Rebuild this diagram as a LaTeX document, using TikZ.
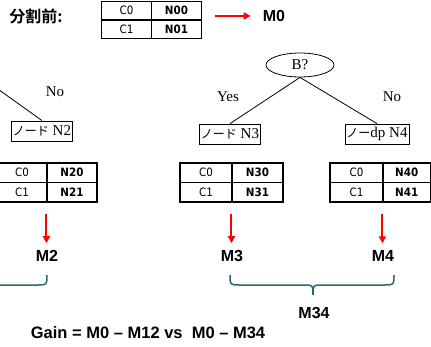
\documentclass[tikz,border=0pt]{standalone}
\usepackage{fontspec}
\setmainfont{Liberation Serif}
\newfontfamily\arialf{Liberation Sans}
\newfontfamily\tabf{DejaVu Sans Condensed}[BoldFont={DejaVu Sans Condensed Bold}]
\newfontfamily\jpf{Noto Sans CJK JP}[BoldFont={Noto Sans CJK JP Bold}]
\usetikzlibrary{shapes.geometric,arrows.meta}
\definecolor{bracecol}{RGB}{46,102,112}

\tikzset{
  cell/.style={draw, line width=1.1pt, inner sep=0pt, font=\tabf\fontsize{11.5}{13}\selectfont},
  cellb/.style={cell, font=\tabf\bfseries\fontsize{11.5}{13}\selectfont},
  treebox/.style={draw, line width=0.8pt, inner sep=1.5pt, minimum height=20pt, font=\fontsize{15}{18}\selectfont},
  decision/.style={draw, ellipse, line width=0.8pt, minimum width=68pt, minimum height=24pt, inner sep=0pt, font=\fontsize{15}{18}\selectfont},
  edge/.style={line width=0.8pt},
  lbl/.style={font=\fontsize{15}{18}\selectfont, inner sep=0pt},
  mlbl/.style={font=\arialf\bfseries\fontsize{16}{19}\selectfont, inner sep=0pt},
  redarrow/.style={draw=red, line width=2pt, -{Triangle[length=7pt,width=7pt]}},
  bracepath/.style={draw=bracecol, line width=1.5pt},
}

% class-count table: #1 name, #2 left x, #3 split x, #4 right x, #5 top y, #6 row height, #7 node digit
\newcommand{\ctable}[7]{%
  \node[cell, minimum width={#3pt-(#2pt)}, minimum height=#6pt]
    (#1c0) at ({(#2+#3)/2}, {#5+#6/2}) {C0};
  \node[cellb, minimum width={#4pt-(#3pt)}, minimum height=#6pt]
    (#1n0) at ({(#3+#4)/2}, {#5+#6/2}) {N#70};
  \node[cell, minimum width={#3pt-(#2pt)}, minimum height=#6pt]
    (#1c1) at ({(#2+#3)/2}, {#5+1.5*#6}) {C1};
  \node[cellb, minimum width={#4pt-(#3pt)}, minimum height=#6pt]
    (#1n1) at ({(#3+#4)/2}, {#5+1.5*#6}) {N#71};
}

\begin{document}
\begin{tikzpicture}[x=1pt, y=-1pt]
  \useasboundingbox (0,0) rectangle (431,346);
  \clip (0,0) rectangle (431,346);

  % before the split
  \node[font=\jpf\bfseries\fontsize{16}{19}\selectfont, inner sep=0pt] (before) at (36,16) {分割前:};
  \ctable{t}{101.5}{151.5}{201.5}{1.5}{18.5}{0}
  \node[mlbl] (m0) at (274,16) {M0};
  \draw[redarrow, shorten <=13pt, shorten >=12pt] (tn0.south east |- m0.west) -- (m0.west);

  % split on B
  \node[decision] (b) at (300,65) {B?};
  \node[treebox] (n3) at (230,134) {{\jpf\fontsize{12}{14}\selectfont ノード} N3};
  \node[treebox] (n4) at (377,134) {{\jpf\fontsize{12}{14}\selectfont ノー}dp N4};
  \draw[edge] (b.south) -- (n3.north);
  \draw[edge] (b.south) -- (n4.north);
  \node[lbl] (yes) at (228,97) {Yes};
  \node[lbl] (no34) at (392,97) {No};

  % right branch of the split on A
  \coordinate (aend) at (-12,82);
  \node[treebox] (n2) at (42,131) {{\jpf\fontsize{12}{14}\selectfont ノード} N2};
  \draw[edge] (aend) -- (n2.north);
  \node[lbl] (no2) at (55,92) {No};

  % child tables
  \ctable{p}{-3}{47}{97}{163}{19.5}{2}
  \ctable{q}{180}{232}{283}{163}{19.5}{3}
  \ctable{r}{330}{383}{430.5}{163}{19.5}{4}

  % child measures
  \node[mlbl] (m2) at (47,256) {M2};
  \node[mlbl] (m3) at (232,256) {M3};
  \node[mlbl] (m4) at (383,256) {M4};
  \draw[redarrow, shorten <=11pt, shorten >=7pt] (pn1.south west) -- (pn1.south west |- m2.north);
  \draw[redarrow, shorten <=11pt, shorten >=7pt] (qn1.south west) -- (qn1.south west |- m3.north);
  \draw[redarrow, shorten <=11pt, shorten >=7pt] (rn1.south west) -- (rn1.south west |- m4.north);

  % braces grouping the measures
  \draw[bracepath] (47,275) .. controls (47,285) .. (37,285) -- (-5,285);
  \draw[bracepath] (230,275) .. controls (230,285) .. (240,285) -- (304,285)
    .. controls (313,285) .. (313,295) .. controls (313,285) .. (322,285)
    -- (384,285) .. controls (394,285) .. (394,275);
  \node[mlbl] (m34) at (314,313) {M34};

  \node[font=\arialf\bfseries\fontsize{16.5}{20}\selectfont, inner sep=0pt] (gain) at (148,333)
    {Gain = M0 – M12 vs~~M0 – M34};
\end{tikzpicture}
\end{document}
